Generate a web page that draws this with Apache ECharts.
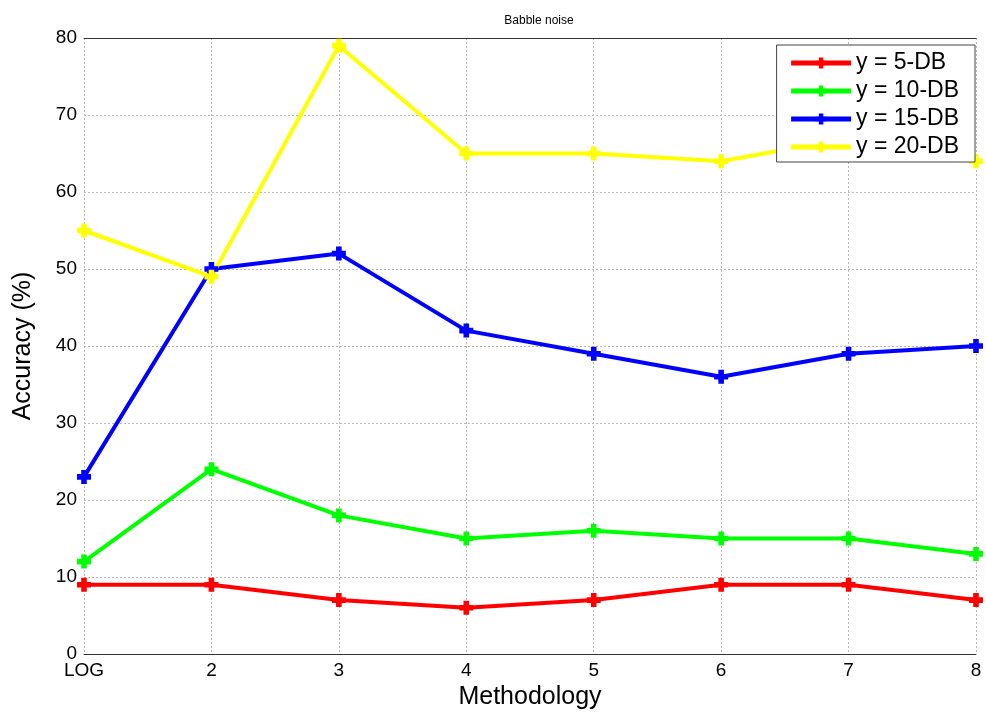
<!DOCTYPE html>
<html>
<head>
<meta charset="utf-8">
<script src="https://cdn.jsdelivr.net/npm/echarts@6/dist/echarts.min.js"></script>
<style>html,body{margin:0;padding:0;background:#fff;}#c{width:986px;height:718px;}</style>
</head>
<body>
<div id="c"></div>
<script>
const categories = ['LOG', '2', '3', '4', '5', '6', '7', '8'];
const seriesNames = ['y = 5-DB', 'y = 10-DB', 'y = 15-DB', 'y = 20-DB'];
const db5  = [9, 9, 7, 6, 7, 9, 9, 7];
const db10 = [12, 24, 18, 15, 16, 15, 15, 13];
const db15 = [23, 50, 52, 42, 39, 36, 39, 40];
const db20 = [55, 49, 79, 65, 65, 64, 67, 64];
const colors = ['#ff0000', '#00ff00', '#0000ff', '#ffff00'];
const allData = [db5, db10, db15, db20];

const plus = 'path://M-1.6,-4 L1.6,-4 L1.6,-1.6 L4,-1.6 L4,1.6 L1.6,1.6 L1.6,4 L-1.6,4 L-1.6,1.6 L-4,1.6 L-4,-1.6 L-1.6,-1.6 Z';
const font = 'Liberation Sans, Arial, sans-serif';

const chart = echarts.init(document.getElementById('c'));
chart.setOption({
  animation: false,
  title: {
    text: 'Babble noise', left: 534, top: 10, textAlign: 'center',
    textStyle: { fontSize: 12, fontWeight: 'normal', color: '#000', fontFamily: font }
  },
  grid: { left: 84, right: 10, top: 38, bottom: 64, containLabel: false, show: false },
  legend: {
    orient: 'vertical', right: 11, top: 45,
    backgroundColor: '#fff', borderColor: '#444', borderWidth: 1, borderRadius: 0,
    padding: [6, 16, 3, 12],
    itemWidth: 60, itemHeight: 14, itemGap: 4,
    lineStyle: { width: 5 },
    textStyle: { fontSize: 23, color: '#000', fontFamily: font, lineHeight: 24 },
    data: seriesNames
  },
  xAxis: [{
    type: 'category', data: categories, boundaryGap: false,
    name: 'Methodology', nameLocation: 'middle', nameGap: 31,
    nameTextStyle: { fontSize: 25, color: '#000', fontFamily: font },
    axisLine: { show: true, lineStyle: { color: '#333', width: 1 } },
    axisTick: { show: false },
    axisLabel: { fontSize: 19, color: '#000', fontFamily: font, margin: 7 },
    splitLine: { show: true, lineStyle: { color: '#b8b8b8', type: [2, 2], width: 1 } }
  }, {
    type: 'category', data: categories, boundaryGap: false, position: 'top',
    axisLine: { show: true, lineStyle: { color: '#333', width: 1 } },
    axisTick: { show: false }, axisLabel: { show: false }, splitLine: { show: false }
  }],
  yAxis: {
    type: 'value', min: 0, max: 80, interval: 10,
    name: 'Accuracy (%)', nameLocation: 'middle', nameGap: 48,
    nameTextStyle: { fontSize: 25, color: '#000', fontFamily: font },
    axisLine: { show: false },
    axisTick: { show: false },
    axisLabel: { fontSize: 19, color: '#000', fontFamily: font, margin: 7 },
    splitLine: { show: true, lineStyle: { color: '#b8b8b8', type: [2, 2], width: 1 } }
  },
  series: seriesNames.map((n, i) => ({
    name: n, type: 'line', data: allData[i],
    xAxisIndex: 0,
    symbol: plus, symbolSize: 14, showAllSymbol: true,
    lineStyle: { color: colors[i], width: 4 },
    itemStyle: { color: colors[i] },
    emphasis: { disabled: true }
  }))
});
</script>
</body>
</html>
